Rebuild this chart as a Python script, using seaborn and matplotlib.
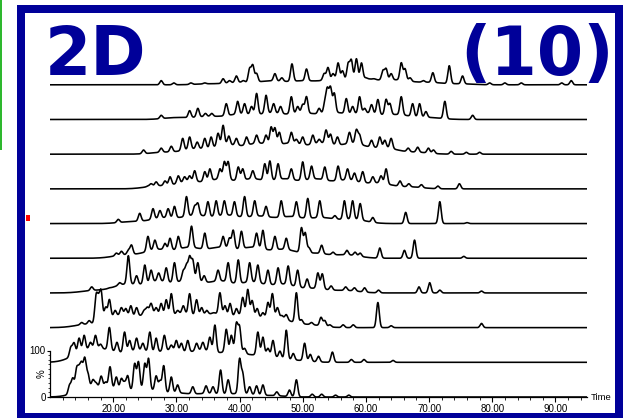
import numpy as np
import pandas as pd
import matplotlib
matplotlib.use("Agg")
import matplotlib.pyplot as plt
import seaborn as sns
from matplotlib.patches import Rectangle

sns.set_theme(style="white")
plt.rcParams["font.family"] = ["Liberation Sans", "DejaVu Sans"]

# ---------------- data: peak lists (retention time in min, height in %) ----------------
T1_PEAK_T = [13.1, 13.6, 14.2, 14.6, 15.0, 15.5, 16.0, 16.8, 17.3, 18.1, 18.8, 19.5, 20.5, 21.3, 21.8, 22.3,
             23.4, 24.0, 25.0, 25.6, 26.8, 27.4, 28.0, 29.2, 30.2, 32.6, 34.7, 35.8, 37.0, 38.2, 40.0, 40.5,
             41.6, 42.7, 43.7, 45.9, 47.9, 49.0, 51.5, 53.0, 55.2, 57.3]
T1_PEAK_H = [25, 39, 56, 52, 65, 80, 49, 37, 30, 45, 32, 65, 43, 39, 30, 45,
             71, 75, 71, 82, 45, 34, 67, 43, 26, 22, 24, 22, 58, 37, 80, 49,
             22, 24, 26, 11, 15, 37, 6, 6, 4, 4]
T1_BG_T = [16, 20, 25, 30, 35, 40, 45]
T1_BG_H = [18, 16, 16, 8, 7, 7, 3]

T2_PEAK_T = [13.3, 13.8, 14.6, 15.4, 16.4, 17.2, 18.0, 19.4, 20.6, 21.8, 22.6, 23.7, 24.7, 25.8, 26.8, 28.1,
             29.2, 30.0, 30.8, 31.8, 33.2, 34.2, 35.3, 36.1, 37.9, 38.7, 39.5, 40.0, 40.8, 42.9, 43.7, 44.5,
             45.3, 46.4, 47.4, 48.5, 50.3, 51.2, 52.5, 54.7, 57.7, 59.7, 64.3]
T2_PEAK_H = [32, 41, 52, 58, 43, 58, 39, 75, 43, 65, 47, 52, 41, 65, 52, 58,
             37, 47, 41, 47, 41, 43, 54, 80, 71, 58, 82, 75, 30, 65, 54, 30,
             47, 24, 69, 19, 41, 17, 13, 22, 6, 6, 4]
T2_BG_T = [15.5, 19, 24, 29, 34, 39, 44, 49]
T2_BG_H = [22, 22, 24, 24, 24, 22, 15, 4]

T3_PEAK_T = [15.0, 16.2, 17.3, 17.7, 18.1, 18.8, 19.4, 20.3, 21.3, 22.0, 22.8, 23.7, 24.9, 25.4, 26.0, 26.8,
             27.6, 28.4, 29.2, 30.2, 31.1, 32.1, 33.2, 34.0, 34.8, 35.9, 36.9, 37.7, 38.5, 39.5, 40.5, 41.3,
             42.0, 42.8, 43.7, 44.5, 45.2, 46.0, 46.7, 47.4, 49.0, 49.8, 51.4, 52.9, 53.5, 54.3, 56.4, 58.0,
             61.9, 64.0, 78.3]
T3_PEAK_H = [11, 15, 65, 52, 73, 43, 60, 37, 43, 41, 47, 43, 37, 43, 52, 43,
             52, 60, 73, 37, 47, 73, 60, 43, 37, 32, 75, 47, 52, 41, 65, 82,
             58, 41, 32, 54, 73, 43, 26, 28, 75, 17, 11, 22, 15, 6, 6, 6,
             54, 4, 9]
T3_BG_T = [16, 21, 26, 31, 36, 41, 46, 51]
T3_BG_H = [7, 25, 28, 28, 28, 26, 20, 6]

T4_PEAK_T = [16.6, 18.0, 19.4, 21.0, 22.4, 23.7, 25.0, 26.0, 27.2, 28.4, 29.7, 31.1, 31.6, 32.1, 32.6, 33.4,
             34.4, 36.6, 38.2, 39.8, 41.6, 42.9, 44.5, 46.1, 47.7, 49.2, 50.7, 52.4, 53.1, 54.5, 56.8, 58.2,
             59.8, 62.0, 68.4, 70.1, 71.7, 78.3]
T4_PEAK_H = [13, 6, 11, 22, 80, 37, 60, 49, 43, 54, 65, 47, 58, 75, 69, 65,
             37, 49, 65, 71, 65, 60, 49, 54, 58, 49, 30, 43, 41, 15, 13, 11,
             11, 6, 13, 22, 6, 4]
T4_BG_T = [17, 22, 27, 32, 37, 42, 47, 52, 57]
T4_BG_H = [5, 18, 24, 26, 24, 22, 18, 9, 5]

T5_PEAK_T = [20.5, 21.3, 22.4, 22.9, 25.5, 26.6, 28.2, 29.0, 30.3, 32.4, 34.5, 37.4, 38.4, 39.0, 40.3, 42.7,
             43.7, 45.6, 47.4, 49.8, 50.4, 51.0, 53.0, 54.8, 57.0, 58.3, 59.1, 62.2, 66.1, 67.7, 75.5]
T5_PEAK_H = [11, 15, 17, 28, 47, 39, 32, 43, 47, 69, 54, 47, 43, 60, 58, 54,
             60, 47, 43, 65, 54, 22, 28, 13, 17, 13, 11, 22, 17, 39, 4]
T5_BG_T = [22, 27, 32, 37, 42, 47, 52, 57]
T5_BG_H = [7, 18, 22, 22, 22, 18, 10, 7]

T6_PEAK_T = [20.8, 24.2, 26.3, 27.4, 28.7, 29.7, 31.6, 32.9, 33.4, 35.0, 36.3, 37.6, 39.2, 40.8, 42.4, 44.2,
             46.6, 49.0, 50.8, 52.7, 55.1, 56.6, 57.9, 59.1, 61.1, 66.3, 71.7, 76.0]
T6_PEAK_H = [9, 22, 32, 28, 32, 37, 58, 37, 43, 47, 49, 49, 47, 58, 49, 37,
             49, 47, 54, 49, 17, 49, 49, 43, 13, 24, 47, 2]
T6_BG_T = [23, 28, 33, 38, 43, 48, 53, 58]
T6_BG_H = [4, 12, 17, 17, 15, 14, 12, 9]

T7_PEAK_T = [25.5, 26.0, 26.8, 28.2, 29.0, 30.3, 31.3, 32.1, 32.9, 34.5, 35.3, 36.9, 37.6, 38.2, 39.8, 40.5,
             42.1, 44.0, 44.8, 46.1, 48.2, 50.0, 51.4, 53.5, 55.6, 57.1, 58.2, 59.5, 61.1, 62.4, 63.2, 65.4,
             66.8, 68.8, 71.4, 74.8]
T7_PEAK_H = [6, 11, 15, 17, 26, 28, 26, 28, 39, 37, 43, 43, 58, 58, 47, 43,
             39, 54, 60, 54, 43, 58, 49, 47, 49, 43, 34, 37, 26, 28, 43, 17,
             11, 9, 6, 11]
T7_BG_T = [27, 32, 37, 42, 47, 52, 57, 62, 67]
T7_BG_H = [6, 15, 20, 20, 20, 20, 18, 12, 4]

T8_PEAK_T = [24.8, 27.6, 29.2, 31.0, 32.1, 33.3, 34.5, 35.5, 36.6, 37.4, 38.3, 39.5, 41.1, 42.7, 44.2, 45.0,
             45.6, 46.3, 48.2, 49.0, 50.0, 51.6, 52.6, 53.7, 54.4, 55.5, 57.4, 58.5, 59.0, 60.9, 62.2, 63.0,
             64.0, 66.7, 68.2, 69.9, 70.7, 73.5, 75.9, 78.0]
T8_PEAK_H = [9, 13, 17, 34, 37, 26, 34, 37, 45, 62, 39, 34, 37, 41, 41, 58,
             56, 47, 47, 32, 37, 41, 32, 52, 43, 37, 47, 52, 41, 30, 37, 30,
             34, 13, 15, 13, 9, 6, 4, 4]
T8_BG_T = [28, 33, 38, 43, 48, 53, 58, 63, 68]
T8_BG_H = [4, 11, 19, 22, 22, 22, 22, 13, 4]

T9_PEAK_T = [27.6, 29.6, 32.1, 33.4, 34.6, 35.6, 37.9, 39.7, 40.8, 41.9, 42.7, 44.2, 45.4, 46.5, 48.2, 49.2,
             50.0, 50.6, 52.6, 53.5, 53.9, 54.4, 55.0, 56.9, 57.9, 59.0, 59.8, 60.9, 61.9, 63.2, 63.8, 65.6,
             67.4, 68.5, 69.5, 72.5, 76.9]
T9_PEAK_H = [9, 4, 19, 24, 13, 13, 34, 39, 34, 28, 56, 52, 34, 28, 49, 28,
             32, 49, 24, 34, 62, 67, 56, 45, 28, 49, 24, 32, 43, 43, 34, 49,
             34, 34, 17, 39, 9]
T9_BG_T = [30, 35, 40, 45, 50, 55, 60, 65, 70]
T9_BG_H = [4, 6, 11, 13, 13, 14, 13, 10, 4]

T10_PEAK_T = [27.6, 29.6, 32.3, 34.5, 37.4, 38.4, 39.5, 40.6, 41.6, 42.1, 42.7, 45.6, 46.7, 48.3, 50.6, 53.4,
              54.0, 54.8, 55.6, 56.3, 57.2, 57.7, 58.5, 59.3, 60.0, 61.3, 62.7, 63.2, 64.0, 65.6, 66.2, 67.0,
              69.1, 70.6, 73.2, 75.3, 79.6, 82.0, 84.6, 91.0, 92.5]
T10_PEAK_H = [9, 4, 4, 4, 13, 9, 19, 9, 34, 41, 24, 24, 15, 45, 34, 24,
              37, 24, 47, 30, 45, 52, 56, 47, 15, 13, 30, 34, 24, 47, 34, 15,
              9, 26, 41, 19, 4, 4, 4, 4, 9]
T10_BG_T = [35, 40, 45, 50, 55, 60, 65, 70, 75]
T10_BG_H = [2, 5, 8, 8, 11, 12, 10, 5, 2]

X_TICKS = [20, 30, 40, 50, 60, 70, 80, 90]
X_TICK_LABELS = ["20.00", "30.00", "40.00", "50.00", "60.00", "70.00", "80.00", "90.00"]
Y_TICKS = [0, 100]
Y_TICK_LABELS = ["0", "100"]

TRACES = [
    (T1_PEAK_T, T1_PEAK_H, T1_BG_T, T1_BG_H),
    (T2_PEAK_T, T2_PEAK_H, T2_BG_T, T2_BG_H),
    (T3_PEAK_T, T3_PEAK_H, T3_BG_T, T3_BG_H),
    (T4_PEAK_T, T4_PEAK_H, T4_BG_T, T4_BG_H),
    (T5_PEAK_T, T5_PEAK_H, T5_BG_T, T5_BG_H),
    (T6_PEAK_T, T6_PEAK_H, T6_BG_T, T6_BG_H),
    (T7_PEAK_T, T7_PEAK_H, T7_BG_T, T7_BG_H),
    (T8_PEAK_T, T8_PEAK_H, T8_BG_T, T8_BG_H),
    (T9_PEAK_T, T9_PEAK_H, T9_BG_T, T9_BG_H),
    (T10_PEAK_T, T10_PEAK_H, T10_BG_T, T10_BG_H),
]

# ---------------- peak shape / layout ----------------
PEAK_SIGMA = 0.22
BG_SIGMA = 2.0
OFFSET = 74.6          # vertical stacking offset (% units)
W, H = 623, 418
PX_PER_PCT = 0.465

time = np.arange(10.0, 95.0001, 0.02)


def gauss(x, c, s):
    return np.exp(-0.5 * ((x - c) / s) ** 2)


frames = []
for i, (pt, ph, bt, bh) in enumerate(TRACES):
    bg = np.zeros_like(time)
    for c, h in zip(bt, bh):
        bg += h * gauss(time, c, BG_SIGMA)
    sig = bg.copy()
    for c, h in zip(pt, ph):
        bg_c = sum(hh * gauss(c, cc, BG_SIGMA) for cc, hh in zip(bt, bh))
        amp = max(h - bg_c, 0.0)
        sig += amp * gauss(time, c, PEAK_SIGMA)
    frames.append(pd.DataFrame({"time": time, "signal": sig + i * OFFSET, "trace": f"T{i+1}"}))
df = pd.concat(frames, ignore_index=True)

fig = plt.figure(figsize=(W / 100, H / 100), dpi=100)
fig.patch.set_facecolor("white")
ax = fig.add_axes([50 / W, (H - 397) / H, 537 / W, 377 / H])
ax.set_facecolor("none")

sns.lineplot(data=df, x="time", y="signal", hue="trace", palette=["black"] * 10,
             legend=False, linewidth=1.15, ax=ax, estimator=None, sort=False)

ax.set_xlim(10, 95)
ax.set_ylim(0, 377 / PX_PER_PCT)
ax.set_xlabel("")
ax.set_ylabel("")
for s in ["top", "right"]:
    ax.spines[s].set_visible(False)
for s in ["left", "bottom"]:
    ax.spines[s].set_color("black")
    ax.spines[s].set_linewidth(0.9)
ax.spines["left"].set_bounds(0, 100)

ax.set_xticks(X_TICKS)
ax.set_xticklabels(X_TICK_LABELS)
ax.set_xticks([m for m in range(12, 95, 2) if m % 10 != 0], minor=True)
ax.set_yticks(Y_TICKS)
ax.set_yticklabels(Y_TICK_LABELS)
ax.set_yticks(list(range(10, 100, 10)), minor=True)
ax.tick_params(axis="x", which="major", bottom=True, direction="out", length=3.6, width=0.8,
               pad=1.5, labelsize=7, colors="black")
ax.tick_params(axis="x", which="minor", bottom=True, direction="out", length=2.0, width=0.7)
ax.tick_params(axis="y", which="major", left=True, direction="out", length=2.2, width=0.8,
               pad=0.8, labelsize=7, colors="black")
ax.tick_params(axis="y", which="minor", left=True, direction="out", length=1.4, width=0.6)

fig.text(42 / W, (H - 374) / H, "%", rotation=90, ha="center", va="center", fontsize=7, color="black")
fig.text(590.5 / W, (H - 397) / H, "Time", ha="left", va="center", fontsize=6.8, color="black")

NAVY = "#000099"
fig.text(45 / W, (H - 75) / H, "2D", ha="left", va="baseline", fontsize=48, fontweight="bold",
         color=NAVY, family="DejaVu Sans")
fig.text(614 / W, (H - 75) / H, "(10)", ha="right", va="baseline", fontsize=48, fontweight="bold",
         color=NAVY, family="DejaVu Sans")

fig.patches.append(Rectangle((20.5 / W, (H - 417) / H), (619 - 20.5) / W, (417 - 8.5) / H,
                             transform=fig.transFigure, fill=False, edgecolor=NAVY,
                             linewidth=8 * 0.72, joinstyle="miter", zorder=5))
fig.patches.append(Rectangle((0, (H - 150) / H), 2.5 / W, 150 / H, transform=fig.transFigure,
                             facecolor="#2eb82e", edgecolor="none", zorder=5))
fig.patches.append(Rectangle((26 / W, (H - 221) / H), 4 / W, 6 / H, transform=fig.transFigure,
                             facecolor="#ff0000", edgecolor="none", zorder=5))

fig.savefig("out.png", dpi=100, facecolor="white")
